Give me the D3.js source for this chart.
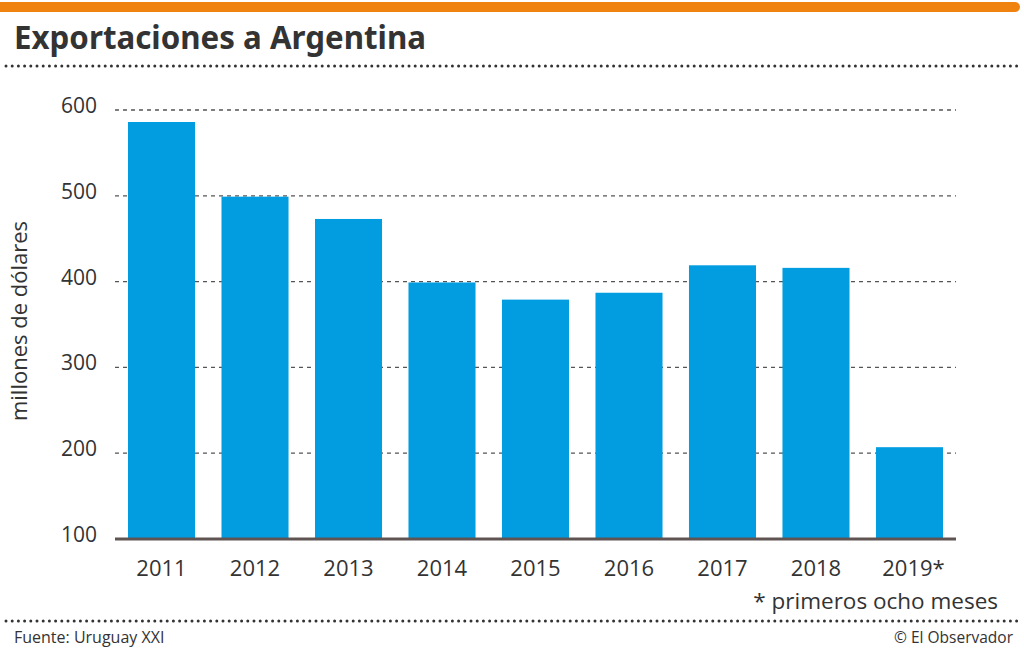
<!DOCTYPE html>
<html><head><meta charset="utf-8">
<script src="https://cdn.jsdelivr.net/npm/d3@7"></script>
<style>body{margin:0;background:#fff}svg{display:block}</style>
</head><body>
<svg id="c" width="1024" height="652"></svg>
<script>
const years = ["2011","2012","2013","2014","2015","2016","2017","2018","2019*"];
const values = [586, 499, 473, 399, 379, 387, 419, 416, 207];
const yTicks = [100, 200, 300, 400, 500, 600];

const svg = d3.select("#c");

// top orange bar
svg.append("rect").attr("x", -10).attr("y", 2).attr("width", 1030).attr("height", 10).attr("rx", 5).attr("fill", "#f0820f");

// title
svg.append("text").attr("x", 14).attr("y", 49).text("Exportaciones a Argentina")
  .attr("font-family", "'Noto Sans',sans-serif").attr("font-weight", 700).attr("font-size", 33)
  .attr("fill", "#333").attr("textLength", 412).attr("lengthAdjust", "spacingAndGlyphs");

// dotted separators
function dots(y) {
  svg.append("line").attr("x1", 6).attr("x2", 1022).attr("y1", y).attr("y2", y)
    .attr("stroke", "#333").attr("stroke-width", 3).attr("stroke-linecap", "round")
    .attr("stroke-dasharray", "0,6.2");
}
dots(66);
dots(621);

const y = d3.scaleLinear().domain([100, 600]).range([539, 110]);
const x = d3.scaleBand().domain(years).range([128, 943]).paddingInner(0.283).paddingOuter(0);

// gridlines
svg.append("g").selectAll("line").data(yTicks.filter(d => d > 100)).join("line")
  .attr("x1", 115).attr("x2", 956).attr("y1", d => y(d)).attr("y2", d => y(d))
  .attr("stroke", "#555").attr("stroke-width", 1.3).attr("stroke-dasharray", "4,4");

// y tick labels
svg.append("g").selectAll("text").data(yTicks).join("text")
  .attr("x", 97).attr("y", d => y(d) + 3).attr("text-anchor", "end")
  .attr("font-family", "'Open Sans',sans-serif").attr("font-size", 21).attr("fill", "#333")
  .text(d => d);

// bars
svg.append("g").selectAll("rect").data(values).join("rect")
  .attr("x", (d, i) => x(years[i])).attr("width", x.bandwidth())
  .attr("y", d => y(d)).attr("height", d => y(100) - y(d))
  .attr("fill", "#019de0");

// baseline
svg.append("line").attr("x1", 115).attr("x2", 956).attr("y1", y(100)).attr("y2", y(100))
  .attr("stroke", "#5f5452").attr("stroke-width", 3);

// x labels
svg.append("g").selectAll("text").data(years).join("text")
  .attr("x", d => x(d) + x.bandwidth() / 2 + (d.endsWith("*") ? 4 : 0)).attr("y", 576)
  .attr("text-anchor", "middle")
  .attr("font-family", "'Open Sans',sans-serif").attr("font-size", 22).attr("fill", "#333")
  .text(d => d);

// y axis title
svg.append("text").attr("transform", "translate(27,321) rotate(-90)")
  .attr("text-anchor", "middle")
  .attr("font-family", "'Open Sans',sans-serif").attr("font-size", 22).attr("fill", "#333")
  .text("millones de dólares");

// note
svg.append("text").attr("x", 998).attr("y", 609).attr("text-anchor", "end")
  .attr("font-family", "'Open Sans',sans-serif").attr("font-size", 22.5).attr("fill", "#333")
  .text("* primeros ocho meses");

// footer
svg.append("text").attr("x", 14).attr("y", 643)
  .attr("font-family", "'Open Sans',sans-serif").attr("font-size", 16).attr("fill", "#333")
  .text("Fuente: Uruguay XXI");
svg.append("text").attr("x", 1013).attr("y", 643).attr("text-anchor", "end")
  .attr("font-family", "'Open Sans',sans-serif").attr("font-size", 15.5).attr("fill", "#333")
  .text("© El Observador");
</script>
</body></html>
